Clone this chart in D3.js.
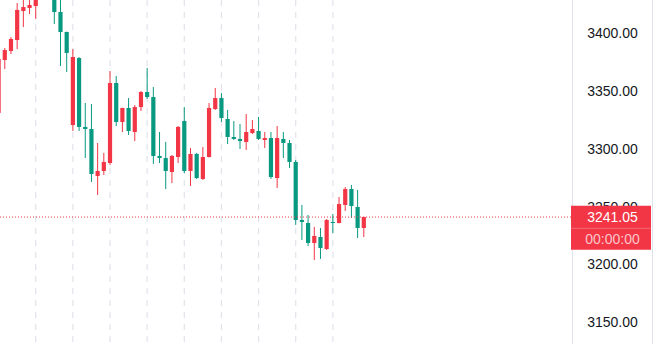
<!DOCTYPE html>
<html>
<head>
<meta charset="utf-8">
<script src="https://cdn.jsdelivr.net/npm/d3@7/dist/d3.min.js"></script>
<style>
  html, body { margin: 0; padding: 0; background: #ffffff; }
  svg { display: block; }
</style>
</head>
<body>
<svg id="chart" width="653" height="344"></svg>
<script>
// ---- data ----
const opens  = [3331.1,3376.9,3384.7,3394.2,3419.3,3421.9,3423.6,3434.0,3446.0,3436.0,
                3418.4,3401.1,3320.7,3378.6,3319.0,3317.2,3276.6,3280.9,3287.8,3357.0,
                3323.3,3335.4,3314.6,3336.2,3349.2,3344.9,3293.9,3292.1,3280.0,3293.0,
                3324.1,3280.9,3295.6,3274.0,3293.0,3334.5,3344.0,3325.9,3310.3,3308.6,
                3306.0,3313.7,3315.5,3307.7,3309.4,3274.8,3308.6,3305.1,3288.7,3238.5,
                3235.9,3218.6,3223.8,3213.4,3236.8,3235.9,3251.5,3265.3,3249.8,3231.6];
const highs  = [3379.0,3387.3,3396.8,3426.2,3432.0,3431.0,3438.0,3448.0,3452.0,3440.0,
                3431.0,3401.5,3386.4,3379.5,3339.7,3338.8,3305.1,3296.5,3367.4,3363.1,
                3335.6,3344.0,3338.0,3350.1,3370.0,3353.5,3314.6,3306.0,3294.7,3319.8,
                3336.2,3300.8,3296.5,3301.6,3339.7,3352.7,3348.3,3333.7,3324.1,3321.5,
                3330.2,3325.0,3327.6,3314.6,3314.6,3319.8,3314.6,3307.7,3290.4,3251.5,
                3242.8,3232.5,3231.6,3239.4,3243.7,3258.4,3267.0,3268.8,3264.5,3241.3];
const lows   = [3330.0,3369.1,3382.1,3386.4,3405.4,3416.7,3412.4,3431.0,3433.0,3408.0,
                3371.7,3366.5,3315.5,3315.5,3292.1,3271.4,3260.1,3277.4,3286.1,3319.8,
                3314.6,3312.0,3306.8,3332.8,3343.2,3287.0,3287.8,3265.3,3270.5,3287.8,
                3279.1,3267.9,3274.0,3273.1,3292.5,3333.7,3323.3,3304.2,3307.7,3299.9,
                3299.1,3312.9,3307.7,3300.8,3274.0,3266.2,3292.1,3283.5,3234.2,3221.2,
                3216.0,3203.9,3204.8,3212.6,3227.3,3235.5,3246.3,3240.2,3222.9,3223.8];
const closes = [3377.8,3385.5,3395.1,3420.2,3422.7,3424.5,3434.0,3444.0,3436.0,3418.4,
                3401.1,3383.0,3379.5,3319.0,3317.2,3278.3,3280.9,3288.7,3357.0,3323.3,
                3335.4,3315.5,3336.2,3349.2,3344.9,3293.9,3292.1,3280.9,3293.9,3319.0,
                3280.9,3295.6,3274.8,3293.0,3335.4,3344.0,3326.7,3310.3,3308.6,3306.8,
                3314.6,3317.2,3308.6,3309.4,3275.7,3309.4,3305.1,3288.7,3238.5,3236.8,
                3218.6,3224.7,3214.3,3238.5,3235.9,3252.3,3265.3,3250.6,3231.6,3241.05];
const priceTicks = [3150, 3200, 3250, 3300, 3350, 3400];
const lastPrice = 3241.05;
const countdown = "00:00:00";
const gridEvery = 6;

// ---- layout ----
const W = 653, H = 344;
const plotRight = 572;
const upColor = "#f23645", downColor = "#089981";
const gridColor = "#e0e3eb";

const svg = d3.select("#chart");
const x = d3.scaleLinear().domain([0, opens.length - 1]).range([-1.4, 363.8]);
const y = d3.scaleLinear().domain([3150, 3400]).range([322.3, 33.3]);

const candles = opens.map((o, i) => ({ i, o, h: highs[i], l: lows[i], c: closes[i] }));

svg.append("defs").append("clipPath").attr("id", "plotclip")
  .append("rect").attr("x", 0).attr("y", 0).attr("width", plotRight).attr("height", H);

const plot = svg.append("g").attr("clip-path", "url(#plotclip)");

// vertical dashed grid lines
const gridIdx = d3.range(gridEvery, opens.length, gridEvery);
plot.selectAll("line.grid").data(gridIdx).join("line")
  .attr("class", "grid")
  .attr("x1", d => x(d)).attr("x2", d => x(d))
  .attr("y1", 0).attr("y2", H)
  .attr("stroke", gridColor).attr("stroke-width", 1.2)
  .attr("stroke-dasharray", "6,6");

// wicks
const bw = 4.2;
plot.selectAll("line.wick").data(candles).join("line")
  .attr("class", "wick")
  .attr("x1", d => x(d.i)).attr("x2", d => x(d.i))
  .attr("y1", d => y(d.h)).attr("y2", d => y(d.l))
  .attr("stroke", d => d.c >= d.o ? upColor : downColor)
  .attr("stroke-width", 1);

// bodies
plot.selectAll("rect.body").data(candles).join("rect")
  .attr("class", "body")
  .attr("x", d => x(d.i) - bw / 2)
  .attr("width", bw)
  .attr("y", d => y(Math.max(d.o, d.c)))
  .attr("height", d => Math.max(1, Math.abs(y(d.o) - y(d.c))))
  .attr("fill", d => d.c >= d.o ? upColor : downColor);

// last price dotted line
plot.append("line")
  .attr("x1", 0).attr("x2", plotRight)
  .attr("y1", y(lastPrice)).attr("y2", y(lastPrice))
  .attr("stroke", upColor).attr("stroke-width", 1)
  .attr("stroke-dasharray", "1,2");

// right price axis
const axisG = svg.append("g").attr("transform", `translate(${plotRight},0)`);
axisG.append("line")
  .attr("x1", 0.5).attr("x2", 0.5).attr("y1", 0).attr("y2", H)
  .attr("stroke", gridColor).attr("stroke-width", 1);
svg.append("line")
  .attr("x1", 652.5).attr("x2", 652.5).attr("y1", 0).attr("y2", H)
  .attr("stroke", gridColor).attr("stroke-width", 1);

const axis = d3.axisRight(y).tickValues(priceTicks).tickSize(0).tickPadding(0)
  .tickFormat(d3.format(".2f"));
const ag = axisG.append("g").call(axis);
ag.select(".domain").remove();
ag.selectAll("text")
  .attr("x", 40.5)
  .attr("text-anchor", "middle")
  .attr("fill", "#131722")
  .style("font-family", "'Liberation Sans', Arial, sans-serif")
  .style("font-size", "14px");

// last price label
const ly = y(lastPrice);
const lab = svg.append("g");
lab.append("rect")
  .attr("x", plotRight - 1).attr("y", ly - 11.3)
  .attr("width", 651 - plotRight + 1).attr("height", 44)
  .attr("fill", upColor);
lab.append("line")
  .attr("x1", plotRight - 1).attr("x2", 651)
  .attr("y1", ly + 11.3).attr("y2", ly + 11.3)
  .attr("stroke", "rgba(255,255,255,0.25)").attr("stroke-width", 1);
lab.append("text")
  .attr("x", 612.5).attr("y", ly).attr("dy", "0.35em")
  .attr("text-anchor", "middle").attr("fill", "#ffffff")
  .style("font-family", "'Liberation Sans', Arial, sans-serif")
  .style("font-size", "14px")
  .text(d3.format(".2f")(lastPrice));
lab.append("text")
  .attr("x", 612.5).attr("y", ly + 22).attr("dy", "0.35em")
  .attr("text-anchor", "middle").attr("fill", "rgba(255,255,255,0.72)")
  .style("font-family", "'Liberation Sans', Arial, sans-serif")
  .style("font-size", "14px")
  .text(countdown);
</script>
</body>
</html>
